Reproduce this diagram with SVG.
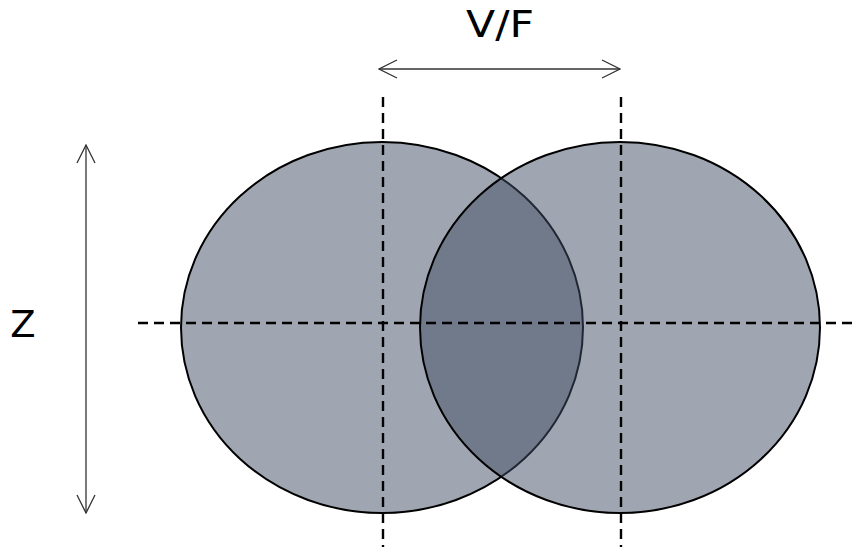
<svg xmlns="http://www.w3.org/2000/svg" width="852" height="547" viewBox="0 0 852 547">
  <defs>
    <marker id="chev" viewBox="0 0 20 20" refX="19" refY="10" markerWidth="20" markerHeight="20" markerUnits="userSpaceOnUse" orient="auto-start-reverse">
      <path d="M1,1 L19,10 L1,19" fill="none" stroke="#333" stroke-width="1.3"/>
    </marker>
  </defs>
  <style>
    .disc { fill: #414D63; fill-opacity: 0.5; stroke: #000; stroke-width: 2; }
    .axis { stroke: #000; stroke-width: 2.4; stroke-dasharray: 10 6; fill: none; }
    .dim { stroke: #333; stroke-width: 1.3; fill: none; marker-start: url(#chev); marker-end: url(#chev); }
    .lbl { font-family: "DejaVu Sans", Verdana, sans-serif; font-size: 37px; fill: #000; text-anchor: middle; }
  </style>

  <g id="disc-left"><ellipse class="disc" cx="382" cy="327.5" rx="201" ry="185.5"/></g>
  <g id="disc-right"><ellipse class="disc" cx="620" cy="327.5" rx="200" ry="185.5"/></g>

  <g id="connectors">
    <line class="axis" x1="852" y1="323" x2="133" y2="323"/>
    <line class="axis" x1="383" y1="97" x2="383" y2="547"/>
    <line class="axis" x1="621" y1="97" x2="621" y2="547"/>
    <line class="dim" x1="379" y1="69" x2="620" y2="69"/>
    <line class="dim" x1="86" y1="145" x2="86" y2="513"/>
  </g>

  <g id="label-vf"><text class="lbl" x="500" y="37" textLength="68" lengthAdjust="spacingAndGlyphs">V/F</text></g>
  <g id="label-z"><text class="lbl" x="23" y="337">Z</text></g>
</svg>
